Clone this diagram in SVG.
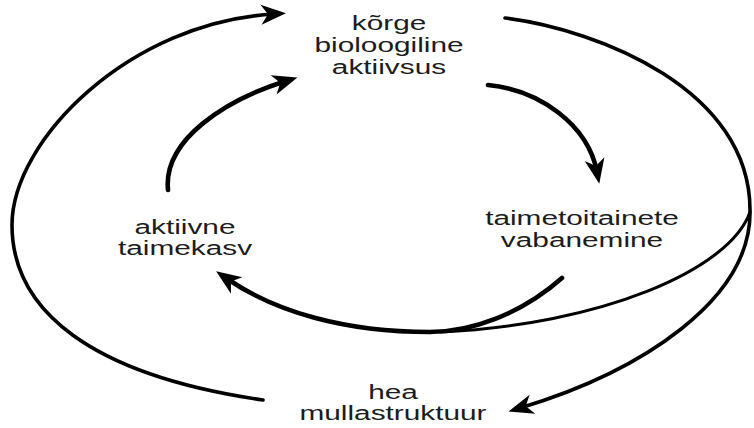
<svg xmlns="http://www.w3.org/2000/svg" width="754" height="428" viewBox="0 0 754 428">
<defs>
<style>
.lbl{font-family:"Liberation Sans",Arial,sans-serif;font-size:21px;fill:#1c1c1c;text-anchor:middle}
.c{fill:none;stroke:#000;stroke-linecap:round}
.o{stroke-width:3.6}
.i{stroke-width:4.6}
</style>
<marker id="ah" viewBox="-14 -11 28 22" markerWidth="28" markerHeight="22" refX="0" refY="0" orient="auto" markerUnits="userSpaceOnUse">
<path d="M12,0 L-13,-10 L-6,0 L-13,10 Z" fill="#000"/>
</marker>
</defs>
<rect width="754" height="428" fill="#fff"/>
<g id="connectors">
<path class="c o" d="M263,400 C90,375 12,310 12,225 C12,140 130,22 274,14" marker-end="url(#ah)"/>
<path class="c i" d="M168,190 C163,140 225,100 286,81" marker-end="url(#ah)"/>
<path class="c i" d="M488,85 C540,90 588,125 597,172" marker-end="url(#ah)"/>
<path class="c o" d="M505,18 C600,30 750,90 750,210 C752,300 640,372 520,408" marker-end="url(#ah)"/>
<path class="c" stroke-width="3" d="M750,212 C730,270 600,325 440,332"/>
<path class="c i" d="M562,278 C520,315 470,332 430,332 C345,332 275,312 226,278" marker-end="url(#ah)"/>
</g>
<g id="node-korge" transform="translate(389,0) scale(1.42,1)">
<text class="lbl" x="0" y="30">kõrge</text>
<text class="lbl" x="0" y="52">bioloogiline</text>
<text class="lbl" x="0" y="74">aktiivsus</text>
</g>
<g id="node-taimekasv" transform="translate(185,0) scale(1.42,1)">
<text class="lbl" x="0" y="234">aktiivne</text>
<text class="lbl" x="0" y="255">taimekasv</text>
</g>
<g id="node-vabanemine" transform="translate(582,0) scale(1.42,1)">
<text class="lbl" x="0" y="225">taimetoitainete</text>
<text class="lbl" x="0" y="247">vabanemine</text>
</g>
<g id="node-mullastruktuur" transform="translate(393,0) scale(1.42,1)">
<text class="lbl" x="0" y="399">hea</text>
<text class="lbl" x="0" y="420">mullastruktuur</text>
</g>
</svg>
